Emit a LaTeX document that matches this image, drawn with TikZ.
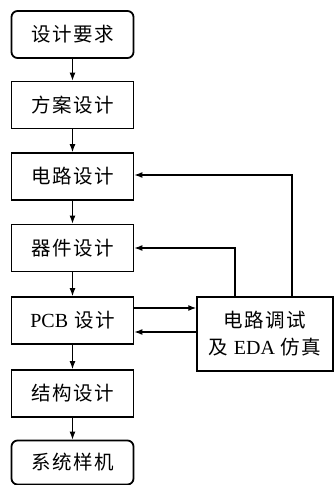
\documentclass[tikz,border=0pt]{standalone}
\usepackage{fontspec}
\setmainfont{Liberation Serif}
\newfontfamily\cjk[LetterSpace=8]{Noto Sans CJK SC}
\usetikzlibrary{arrows.meta}
\begin{document}
\begin{tikzpicture}[x=1pt,y=-1pt,
  box/.style={draw,line width=1.8pt,minimum width=122pt,minimum height=47pt,inner sep=0pt,
    font=\cjk\fontsize{19.5}{27}\selectfont},
  rbox/.style={box,rounded corners=6pt},
  link/.style={line width=1.2pt,-{Latex[length=8pt,width=6pt]}}]
\useasboundingbox (0,0) rectangle (334,485);
\node[rbox] (n1) at (72.5,34.5) {设计要求};
\node[box] (n2) at (72.5,105) {方案设计};
\node[box] (n3) at (72.5,176.5) {电路设计};
\node[box] (n4) at (72.5,248) {器件设计};
\node[box] (n5) at (72.5,320.5) {{\rmfamily\fontsize{20}{27}\selectfont PCB} 设计};
\node[box] (n6) at (72.5,393.5) {结构设计};
\node[rbox,minimum height=44pt] (n7) at (72.5,462.5) {系统样机};
\node[box,line width=1.5pt,minimum width=136pt,minimum height=74pt,align=center] (dbg) at (265,334)
  {电路调试\\及 {\rmfamily\fontsize{20}{27}\selectfont EDA} 仿真};
\draw[link] (n1) -- (n2);
\draw[link] (n2) -- (n3);
\draw[link] (n3) -- (n4);
\draw[link] (n4) -- (n5);
\draw[link] (n5) -- (n6);
\draw[link] (n6) -- (n7);
\draw[link] ([yshift=12.5pt]n5.east) -- ([yshift=12.5pt]n5.east -| dbg.west);
\draw[link] ([yshift=-11.5pt]n5.east -| dbg.west) -- ([yshift=-11.5pt]n5.east);
\draw[link] ([xshift=-30pt]dbg.north) |- (n4.east);
\draw[link] ([xshift=27pt]dbg.north) |- ([yshift=1.5pt]n3.east);
\end{tikzpicture}
\end{document}
